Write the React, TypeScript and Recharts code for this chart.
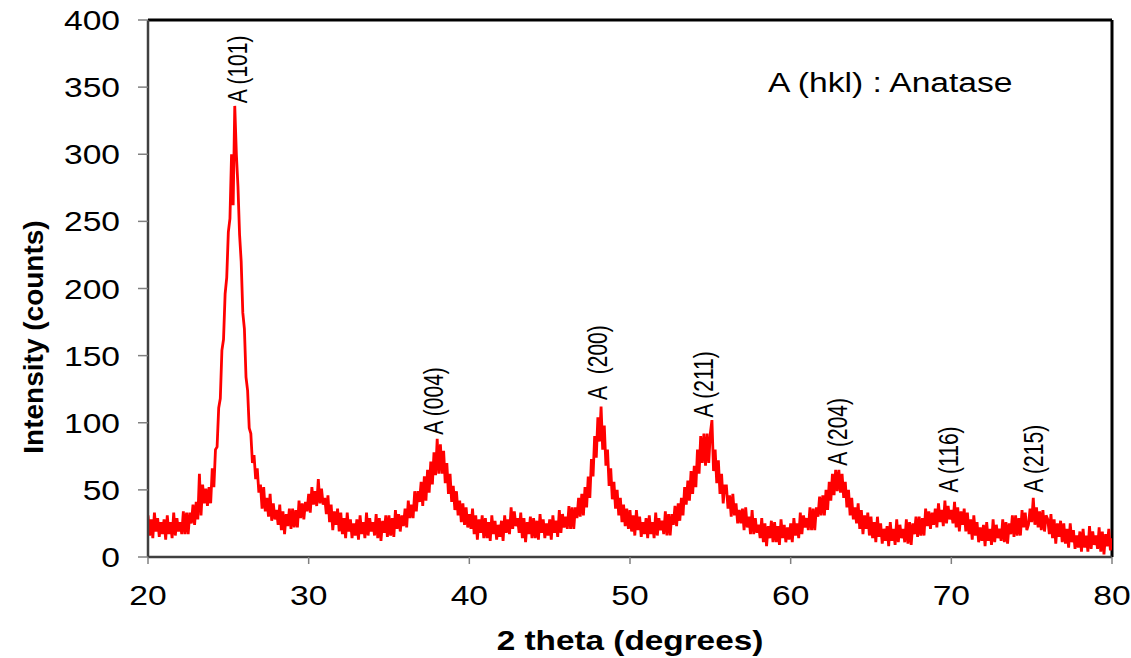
import { ComposedChart, Line, XAxis, YAxis, ReferenceLine, ReferenceDot } from 'recharts';

// XRD scan: 20.0 .. 80.0 degrees in 0.1 degree steps
const START_DEG = 20;
const STEP_DEG = 0.1;
const INTENSITY = [
  31, 16, 28, 14, 33, 19, 29, 15, 26, 17, // 20
  28, 13, 31, 17, 26, 14, 33, 16, 29, 19, // 21
  26, 17, 34, 17, 33, 17, 33, 25, 39, 24, // 22
  41, 28, 62, 31, 54, 40, 51, 38, 52, 40, // 23
  66, 52, 80, 82, 111, 118, 154, 162, 196, 208, // 24
  242, 252, 300, 262, 336, 300, 276, 240, 220, 182, // 25
  170, 134, 124, 96, 92, 70, 76, 58, 66, 48, // 26
  54, 36, 52, 34, 44, 30, 47, 27, 40, 28, // 27
  35, 24, 39, 20, 34, 17, 32, 23, 36, 21, // 28
  36, 22, 35, 22, 42, 29, 40, 28, 41, 34, // 29
  47, 33, 52, 39, 49, 38, 58, 40, 51, 39, // 30
  44, 32, 46, 26, 39, 20, 34, 24, 36, 19, // 31
  33, 17, 29, 14, 33, 19, 28, 14, 25, 16, // 32
  28, 13, 31, 17, 26, 14, 33, 16, 29, 19, // 33
  26, 16, 32, 14, 29, 12, 27, 18, 31, 15, // 34
  31, 16, 29, 15, 35, 21, 32, 19, 31, 23, // 35
  36, 22, 42, 29, 39, 29, 49, 34, 49, 41, // 36
  56, 38, 60, 42, 65, 48, 71, 54, 78, 61, // 37
  88, 62, 84, 62, 79, 55, 70, 47, 62, 41, // 38
  53, 35, 49, 31, 42, 26, 40, 24, 37, 22, // 39
  32, 21, 36, 17, 31, 13, 28, 18, 31, 14, // 40
  29, 14, 26, 12, 31, 17, 27, 13, 24, 15, // 41
  27, 12, 31, 18, 28, 17, 37, 21, 34, 23, // 42
  29, 18, 33, 14, 29, 11, 26, 17, 30, 14, // 43
  29, 14, 27, 13, 32, 18, 28, 14, 25, 16, // 44
  28, 13, 31, 18, 27, 15, 35, 18, 32, 22, // 45
  30, 21, 38, 21, 37, 21, 37, 29, 44, 30, // 46
  47, 31, 52, 37, 60, 44, 73, 60, 90, 74, // 47
  104, 86, 112, 80, 98, 68, 80, 53, 66, 43, // 48
  56, 36, 50, 31, 44, 26, 39, 23, 36, 21, // 49
  35, 19, 31, 16, 35, 20, 30, 15, 26, 17, // 50
  29, 14, 31, 17, 26, 14, 33, 16, 29, 20, // 51
  27, 17, 34, 16, 32, 16, 32, 24, 38, 23, // 52
  40, 27, 44, 31, 52, 39, 57, 42, 64, 47, // 53
  68, 52, 80, 62, 90, 70, 92, 68, 92, 70, // 54
  92, 102, 64, 80, 55, 72, 47, 62, 40, 53, // 55
  53, 36, 46, 30, 47, 31, 40, 25, 35, 25, // 56
  36, 20, 37, 22, 30, 17, 35, 17, 29, 18, // 57
  24, 14, 29, 11, 25, 8, 23, 14, 27, 11, // 58
  26, 11, 23, 9, 28, 14, 24, 11, 22, 13, // 59
  25, 11, 29, 16, 25, 14, 33, 17, 31, 22, // 60
  29, 20, 37, 20, 36, 20, 37, 30, 45, 31, // 61
  46, 31, 50, 35, 56, 42, 62, 46, 65, 49, // 62
  65, 48, 62, 44, 56, 37, 50, 31, 44, 28, // 63
  37, 25, 40, 21, 35, 17, 31, 21, 33, 16, // 64
  30, 14, 26, 11, 30, 15, 25, 10, 21, 12, // 65
  23, 8, 26, 12, 21, 9, 28, 11, 24, 14, // 66
  21, 11, 28, 10, 26, 9, 25, 17, 30, 15, // 67
  30, 16, 29, 16, 36, 23, 34, 21, 33, 24, // 68
  36, 22, 40, 26, 35, 23, 42, 25, 38, 28, // 69
  35, 25, 41, 22, 37, 19, 34, 24, 36, 19, // 70
  33, 17, 28, 13, 31, 16, 26, 11, 22, 12, // 71
  24, 8, 26, 12, 21, 9, 28, 11, 24, 14, // 72
  21, 12, 28, 11, 26, 10, 25, 17, 31, 15, // 73
  31, 16, 29, 16, 35, 22, 33, 20, 24, 36, // 74
  26, 44, 24, 37, 22, 34, 20, 35, 19, 31, // 75
  28, 17, 32, 14, 28, 10, 25, 15, 27, 11, // 76
  25, 10, 21, 7, 25, 11, 20, 6, 16, 7, // 77
  19, 4, 21, 7, 16, 4, 23, 6, 19, 9, // 78
  16, 6, 22, 4, 19, 2, 17, 8, 21, 5, // 79
  14, // 80
];

const X_TICKS = [20, 30, 40, 50, 60, 70, 80];
const Y_TICKS = [0, 50, 100, 150, 200, 250, 300, 350, 400];

const PEAK_LABELS = ['A (101)', 'A (004)', 'A\u00a0\u00a0(200)', 'A (211)', 'A (204)', 'A (116)', 'A (215)'];
const PEAK_ANGLE = [25.5, 37.7, 47.9, 54.5, 62.8, 69.7, 75.0];
const PEAK_TOP = [338, 91, 117, 104, 68, 48, 48];

const FONT = '"Liberation Sans", Arial, sans-serif';

const data = INTENSITY.map((v, i) => ({
  x: Math.round((START_DEG + i * STEP_DEG) * 10) / 10,
  y: v,
}));

function XTick({ x, y, payload }: any) {
  return (
    <text
      transform={`translate(${x},${y + 39}) scale(1.2,1)`}
      textAnchor="middle"
      fontSize={28}
      fontFamily={FONT}
      fill="#000"
    >
      {payload.value}
    </text>
  );
}

function YTick({ y, payload }: any) {
  return (
    <text
      transform={`translate(120,${y + 10}) scale(1.2,1)`}
      textAnchor="end"
      fontSize={28}
      fontFamily={FONT}
      fill="#000"
    >
      {payload.value}
    </text>
  );
}

export default function App() {
  return (
    <div style={{ position: 'absolute', left: 0, top: 0, width: 1131, height: 658, background: '#fff' }}>
      <ComposedChart width={1131} height={658} data={data} margin={{ top: 20, right: 19, bottom: 0, left: 0 }}>
        <XAxis
          dataKey="x"
          type="number"
          domain={[20, 80]}
          ticks={X_TICKS}
          height={101}
          tickSize={7}
          tick={<XTick />}
          axisLine={{ stroke: '#404040', strokeWidth: 2.5 }}
          tickLine={{ stroke: '#808080', strokeWidth: 1.5 }}
          allowDataOverflow
        />
        <YAxis
          type="number"
          domain={[0, 400]}
          ticks={Y_TICKS}
          width={148}
          tickSize={10}
          tick={<YTick />}
          axisLine={{ stroke: '#404040', strokeWidth: 2.5 }}
          tickLine={{ stroke: '#808080', strokeWidth: 1.5 }}
          allowDataOverflow
        />
        <ReferenceLine y={400} stroke="#000" strokeWidth={3} />
        <ReferenceLine x={80} stroke="#000" strokeWidth={3} />
        <Line
          type="linear"
          dataKey="y"
          stroke="#ff0000"
          strokeWidth={2.8}
          strokeLinejoin="miter"
          dot={false}
          activeDot={false}
          isAnimationActive={false}
        />
        {PEAK_LABELS.map((t, i) => (
          <ReferenceDot
            key={t}
            x={PEAK_ANGLE[i]}
            y={PEAK_TOP[i]}
            r={1}
            ifOverflow="visible"
            shape={(p: any) => (
              <text
                transform={`translate(${p.cx + 11},${p.cy}) scale(1.3,1) rotate(-90)`}
                fontSize={21}
                fontFamily={FONT}
                fill="#000"
              >
                {t}
              </text>
            )}
          />
        ))}
      </ComposedChart>
      <svg
        width={1131}
        height={658}
        style={{ position: 'absolute', left: 0, top: 0, pointerEvents: 'none' }}
      >
        <text
          transform="translate(43,337) rotate(-90)"
          textAnchor="middle"
          fontSize={28}
          fontWeight="bold"
          fontFamily={FONT}
          fill="#000"
        >
          Intensity (counts)
        </text>
        <text
          transform="translate(630,650) scale(1.19,1)"
          textAnchor="middle"
          fontSize={28}
          fontWeight="bold"
          fontFamily={FONT}
          fill="#000"
        >
          2 theta (degrees)
        </text>
        <text
          transform="translate(768,92) scale(1.2,1)"
          fontSize={28}
          fontFamily={FONT}
          fill="#000"
        >
          A (hkl) : Anatase
        </text>
      </svg>
    </div>
  );
}
